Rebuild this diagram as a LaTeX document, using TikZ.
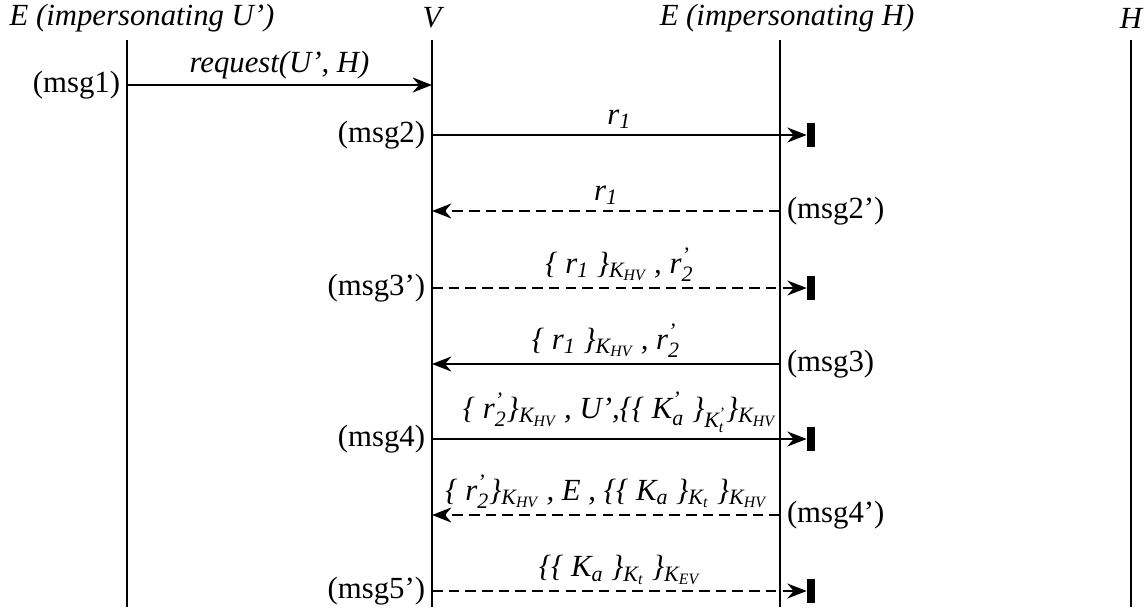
\documentclass[tikz,border=0pt]{standalone}
\usepackage{amsmath}
\usepackage{fontspec}
\setmainfont{Liberation Serif}[ItalicFont={Liberation Serif Italic}]
\usepackage{tikz}
\usetikzlibrary{arrows.meta,positioning,calc}
\DeclareMathSizes{17.5}{17.5}{12.5}{9}

% italic base with italic sub/superscripts
\newcommand{\isb}[2]{\ensuremath{\textit{#1}_{\textit{#2}}}}
\newcommand{\isp}[2]{\ensuremath{\textit{#1}^{\textit{'}}_{\textit{#2}}}}

\begin{document}
\begin{tikzpicture}[x=0.02cm, y=-0.02cm,
      every node/.style={font=\fontsize{17.5}{20}\selectfont},
      actor/.style={font=\fontsize{17.5}{20}\selectfont\itshape},
      life/.style={line width=0.6pt},
      msg/.style={-{Stealth[length=11pt,width=8.5pt]}, line width=1.3pt},
      dmsg/.style={msg, dash pattern=on 6pt off 3.5pt},
      lbl/.style={above, font=\fontsize{17.5}{20}\selectfont\itshape, inner sep=3pt},
      bar/.style={rectangle, fill=black, inner sep=0pt, minimum width=4.5pt, minimum height=14pt}
    ]
      \useasboundingbox (0,0) rectangle (1145,612);
      % actors
      \node[actor] (eu) at (142,18) {E (impersonating U')};
      \node[actor] (v)  at (432,18) {V};
      \node[actor] (eh) at (787,18) {E (impersonating H)};
      \node[actor] (h)  at (1131,18) {H};
      % lifelines
      \coordinate (eut) at (127,40);  \coordinate (eub) at (127,607);
      \coordinate (vt)  at (432,40);  \coordinate (vb)  at (432,607);
      \coordinate (eht) at (780,40);  \coordinate (ehb) at (780,607);
      \coordinate (ht)  at (1131,40); \coordinate (hb)  at (1131,607);
      \draw[life] (eut)--(eub);
      \draw[life] (vt)--(vb);
      \draw[life] (eht)--(ehb);
      \draw[life] (ht)--(hb);
      % end points and blocking bars
      \coordinate (m1s) at (127,85);  \coordinate (m1e) at (432,85);
      \coordinate (m2s) at (432,135); \node[bar] (b2) at (811,135) {};
      \coordinate (m2ps) at (780,211); \coordinate (m2pe) at (432,211);
      \coordinate (m3ps) at (432,288); \node[bar] (b3p) at (811,288) {};
      \coordinate (m3s) at (780,364); \coordinate (m3e) at (432,364);
      \coordinate (m4s) at (432,439); \node[bar] (b4) at (811,439) {};
      \coordinate (m4ps) at (780,515); \coordinate (m4pe) at (432,515);
      \coordinate (m5ps) at (432,591); \node[bar] (b5p) at (811,591) {};
      % messages
      \draw[msg] (m1s) node[left]{(msg1)} -- node[lbl]{request(U', H)} (m1e);
      \draw[msg] (m2s) node[left]{(msg2)} -- node[lbl]{\isb{r}{1}} (b2.west);
      \draw[dmsg] (m2ps) node[right]{(msg2')} -- node[lbl]{\isb{r}{1}} (m2pe);
      \draw[dmsg] (m3ps) node[left]{(msg3')} -- node[lbl]{%
        \{ \isb{r}{1} \}$_{\isb{K}{HV}}$ , \isp{r}{2}} (b3p.west);
      \draw[msg] (m3s) node[right]{(msg3)} -- node[lbl]{%
        \{ \isb{r}{1} \}$_{\isb{K}{HV}}$ , \isp{r}{2}} (m3e);
      \draw[msg] (m4s) node[left]{(msg4)} -- node[lbl]{%
        \{ \isp{r}{2}\}$_{\isb{K}{HV}}$ , U',\{\{ \isp{K}{a} \}$_{\isp{K}{t}}$\}$_{\isb{K}{HV}}$} (b4.west);
      \draw[dmsg] (m4ps) node[right]{(msg4')} -- node[lbl]{%
        \{ \isp{r}{2}\}$_{\isb{K}{HV}}$ , E , \{\{ \isb{K}{a} \}$_{\isb{K}{t}}$ \}$_{\isb{K}{HV}}$} (m4pe);
      \draw[dmsg] (m5ps) node[left]{(msg5')} -- node[lbl]{%
        \{\{ \isb{K}{a} \}$_{\isb{K}{t}}$ \}$_{\isb{K}{EV}}$} (b5p.west);
    \end{tikzpicture}
\end{document}
